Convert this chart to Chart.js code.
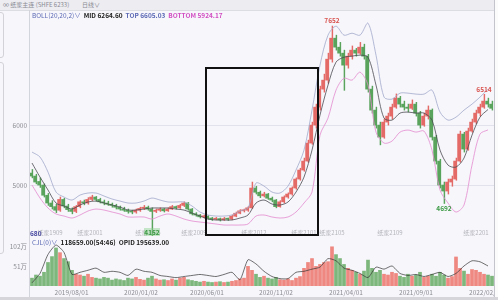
<!DOCTYPE html>
<html>
<head>
<meta charset="utf-8">
<title>纸浆主连 BOLL</title>
<script src="https://cdn.jsdelivr.net/npm/chart.js@4.4.1/dist/chart.umd.min.js"></script>
<style>
  html, body { margin: 0; padding: 0; }
  body {
    position: relative; width: 498px; height: 300px; overflow: hidden;
    background: #f6f6fb;
    font-family: "Noto Sans CJK SC", "Noto Sans", sans-serif;
  }
  .abs { position: absolute; white-space: nowrap; }
  #toolbar { left: 0; top: 0; width: 498px; height: 10px; background: #ececf1; border-bottom: 1px solid #dcdce3; }
  .t6 { font-size: 6px; line-height: 8px; }
  .t65 { font-size: 6.5px; line-height: 8px; font-weight: bold; }
  #price { left: 0; top: 10px; }
  #volume { left: 0; top: 236px; }
  .vline { width: 1px; background: #d4d4dc; }
  .side { border: 1px solid #d2d2d8; border-radius: 3px; }
  #box { left: 205px; top: 67px; width: 110px; height: 165px; border: 2px solid #111; }
</style>
</head>
<body>
<div id="toolbar" class="abs"></div>
<div class="abs t6" style="left:3px;top:1px;color:#8a8a92;">∞ 纸浆主连 (SHFE 6233)</div>
<div class="abs t6" style="left:82px;top:1px;color:#8a8a92;">日线∨</div>

<div class="abs side" style="left:-12px;top:12px;width:14px;height:44px;"></div>
<div class="abs side" style="left:-12px;top:62px;width:14px;height:190px;"></div>
<div class="abs vline" style="left:29px;top:10px;height:287px;"></div>
<div class="abs" style="left:494px;top:0;width:1px;height:300px;background:#c4c4cc;"></div>
<div class="abs" style="left:495px;top:0;width:3px;height:300px;background:#fbfbfc;"></div>

<canvas id="price" class="abs" width="494" height="226"></canvas>
<canvas id="volume" class="abs" width="494" height="61"></canvas>

<div class="abs t65" style="left:32px;top:11px;">
  <span style="color:#5b68b4;font-weight:normal;">BOLL(20,20,2)∨</span>
  <span style="color:#222;">&nbsp;MID 6264.60</span>
  <span style="color:#5b68b4;">&nbsp;TOP 6605.03</span>
  <span style="color:#d24fc2;">&nbsp;BOTTOM 5924.17</span>
</div>
<div class="abs t65" style="left:30px;top:229px;color:#4a4aa0;">680</div>
<div class="abs t65" style="left:32px;top:238px;">
  <span style="color:#5b68b4;font-weight:normal;">CJL(0)∨</span>
  <span style="color:#222;">&nbsp;118659.00(54:46)</span>
  <span style="color:#222;">&nbsp;OPID 195639.00</span>
</div>
<div class="abs" style="left:0;top:297px;width:498px;height:3px;background:#d6d6da;"></div>
<div id="box" class="abs"></div>

<script>
(function () {
  "use strict";

  // daily candles (one entry per bar, index 0..115)
  const opens = [5200,5150,5060,5000,4830,4700,4640,4580,4760,4650,
    4590,4560,4640,4720,4700,4760,4800,4760,4720,4700,
    4680,4660,4630,4600,4580,4560,4550,4580,4610,4630,
    4600,4560,4580,4600,4570,4600,4640,4620,4660,4700,
    4600,4520,4500,4470,4480,4450,4430,4440,4420,4440,
    4430,4480,4530,4570,4580,4620,4950,4880,4820,4850,
    4780,4750,4640,4720,4800,4850,4950,5100,5250,5400,
    5700,6000,6300,6600,6750,7100,7450,7300,7200,7000,
    7150,7250,7200,7300,7150,6600,6250,6000,5800,6050,
    6150,6300,6450,6350,6300,6280,6350,6200,6000,6150,
    6250,5800,5400,5000,4900,5050,5100,5400,5850,5600,
    5900,6050,6200,6300,6400,6350];
  const closes = [5150,5050,5000,4830,4700,4640,4580,4760,4650,4590,
    4560,4640,4720,4700,4760,4800,4760,4720,4700,4680,
    4660,4630,4600,4580,4560,4550,4580,4610,4630,4600,
    4560,4580,4600,4570,4600,4640,4620,4660,4700,4600,
    4520,4500,4470,4480,4450,4430,4440,4420,4440,4430,
    4480,4530,4570,4580,4620,4950,4880,4820,4850,4780,
    4750,4640,4720,4800,4850,4950,5100,5250,5400,5700,
    6000,6300,6600,6750,7100,7450,7300,7200,7000,7150,
    7250,7200,7300,7150,6600,6250,6000,5800,6050,6150,
    6300,6450,6350,6300,6280,6350,6200,6000,6150,6250,
    5800,5400,5000,4900,5050,5100,5400,5850,5600,5900,
    6050,6200,6300,6400,6350,6280];
  const highs = [5260,5180,5120,5020,4860,4740,4680,4800,4780,4680,
    4620,4660,4740,4750,4790,4830,4810,4780,4750,4730,
    4700,4680,4650,4630,4600,4580,4600,4630,4660,4650,
    4620,4600,4620,4610,4620,4660,4650,4680,4720,4710,
    4610,4540,4510,4500,4490,4460,4460,4450,4460,4450,
    4500,4550,4590,4600,4640,5050,4980,4900,4880,4860,
    4800,4760,4740,4820,4870,4970,5120,5280,5450,5750,
    6050,6350,6650,6850,7200,7652,7500,7380,7250,7200,
    7320,7280,7380,7350,7180,6650,6300,6050,6100,6200,
    6350,6520,6480,6400,6350,6420,6380,6230,6200,6320,
    6270,5830,5430,5050,5100,5150,5450,5900,5880,5950,
    6100,6250,6350,6514,6450,6400];
  const lows = [5120,5020,4960,4800,4660,4600,4540,4560,4620,4560,
    4520,4540,4620,4670,4680,4740,4730,4700,4670,4660,
    4630,4600,4580,4560,4530,4520,4530,4560,4590,4580,
    4152,4540,4560,4550,4560,4590,4600,4610,4640,4580,
    4500,4480,4450,4450,4430,4410,4420,4400,4410,4410,
    4420,4470,4520,4550,4560,4610,4850,4790,4800,4760,
    4720,4620,4630,4700,4780,4830,4930,5080,5230,5380,
    5680,5950,6250,6550,6700,7050,7250,7150,6580,6950,
    7100,7150,7180,7100,6550,6200,5950,5670,5780,6000,
    6100,6280,6300,6250,6220,6260,6150,5950,5980,6100,
    5750,5350,4950,4692,4850,4980,5080,5380,5550,5580,
    5880,6020,6150,6280,6300,6250];
  // volume, 万手
  const volumes = [20,28,25,35,60,75,97,85,70,62,
    40,30,28,25,30,22,20,18,22,20,
    15,18,16,14,20,18,22,17,15,20,
    25,18,15,16,14,18,15,20,22,16,
    14,12,10,12,10,9,10,11,9,10,
    12,14,18,20,50,40,30,22,25,20,
    18,22,16,15,18,14,20,24,45,60,
    70,50,55,60,62,100,80,70,55,45,
    40,35,30,38,66,45,35,40,30,28,
    35,32,25,22,30,25,28,35,22,25,
    30,25,35,28,20,24,74,45,38,30,
    42,40,35,30,28,25];

  // BOLL bands and open interest, sampled every 2nd bar
  const bollTop = [5550,5467,5217,4883,4800,4750,4833,4867,4867,4817,
    4767,4733,4700,4700,4733,4783,4750,4717,4717,4717,
    4650,4550,4500,4483,4483,4500,4567,4620,5033,4983,
    4883,4867,4983,5250,5583,6250,7000,7500,7650,7500,
    7533,7500,7700,7167,6467,6433,6533,6533,6517,6517,
    6583,6217,6083,6133,6250,6350,6467,6600];
  const bollMid = [5367,5133,4917,4700,4650,4600,4667,4717,4733,4700,
    4667,4633,4583,4583,4600,4617,4617,4617,4600,4583,
    4533,4483,4433,4417,4417,4417,4450,4500,4700,4750,
    4683,4667,4717,4883,5133,5583,6167,6667,7050,7133,
    7150,7167,7133,6667,6117,6083,6200,6217,6200,6200,
    6083,5583,5333,5300,5450,5833,6133,6260];
  const bollBot = [5000,4783,4617,4517,4483,4450,4500,4567,4600,4583,
    4550,4517,4467,4467,4467,4433,4483,4517,4483,4433,
    4400,4383,4367,4350,4333,4333,4333,4350,4483,4500,
    4467,4450,4467,4550,4700,4883,5833,6117,6583,6783,
    6750,6883,6667,5883,5700,5733,5883,5917,5883,5900,
    5583,4917,4700,4550,4667,5333,5850,5920];
  const openInterest = [3.1,12.3,30.9,40.1,32.9,11.3,13.4,15.4,17.5,13.4,
    14.4,13.4,10.3,16.5,14.4,13.4,10.3,9.3,8.2,9.3,
    10.3,11.3,10.3,9.3,11.3,13.4,6.2,25.7,21.6,14.4,
    9.3,7.2,7.2,13.4,14.4,16.5,18.5,26.8,24.7,17.5,
    15.4,12.3,8.2,18.5,16.5,19.6,12.3,10.3,11.3,9.3,
    11.3,13.4,9.3,12.3,19.6,24.7,23.7,19.6];
  const bandStep = 2;

  const dateTicks = [9.9, 27.25, 43.75, 61, 78.5, 96, 113.5];
  const dateLabels = ["2019/08/01", "2020/01/02", "2020/06/01", "2020/11/02", "2021/04/01", "2021/09/01", "2022/02/07"];
  const priceTicks = [5000, 6000];
  const volumeTicks = [51, 102];

  const rollIdx = [4.5, 14.5, 29, 40.5, 55.5, 68, 75, 89.5, 111];
  const rollNames = ["纸浆1909", "纸浆2001", "纸浆2005", "纸浆2009", "纸浆2012", "纸浆2101", "纸浆2105", "纸浆2109", "纸浆2201"];
  const markHighs = [75, 113];
  const markLows = [30, 103];

  const UP = "#e46a68";
  const DOWN = "#59a35c";
  const FONT = '"Noto Sans CJK SC", "Noto Sans", sans-serif';
  const LABEL = "#8c8c94";

  Chart.defaults.font.family = FONT;
  Chart.defaults.animation = false;

  const isUp = (i) => closes[i] >= opens[i];
  const candleColors = opens.map((o, i) => (isUp(i) ? UP : DOWN));
  const volColors = opens.map((o, i) => (isUp(i) ? "rgba(236,116,106,0.85)" : "rgba(104,172,100,0.85)"));
  const band = (arr) => arr.map((v, k) => ({ x: k * bandStep, y: v }));

  const xScale = {
    type: "linear", min: -0.5, max: opens.length - 0.5,
    offset: false, display: false,
  };

  // y labels and grid drawn by hand so the plot area keeps its exact size
  const yLabels = (id, values, format, grid) => ({
    id: id,
    beforeDatasetsDraw(chart) {
      const { ctx, chartArea } = chart;
      const ys = chart.scales.y;
      ctx.save();
      ctx.font = "6.5px " + FONT;
      ctx.fillStyle = LABEL;
      ctx.textAlign = "right";
      ctx.textBaseline = "middle";
      values.forEach((v) => {
        const py = Math.round(ys.getPixelForValue(v)) + 0.5;
        if (grid) {
          ctx.strokeStyle = "rgba(190,190,210,0.6)";
          ctx.lineWidth = 0.6;
          ctx.beginPath();
          ctx.moveTo(chartArea.left, py);
          ctx.lineTo(chartArea.right, py);
          ctx.stroke();
        }
        ctx.fillText(format(v), chartArea.left - 3, py);
      });
      ctx.restore();
    },
  });

  const priceLabels = {
    id: "priceLabels",
    afterDatasetsDraw(chart) {
      const { ctx, chartArea } = chart;
      const xs = chart.scales.x, ys = chart.scales.y;
      ctx.save();
      ctx.textAlign = "center";

      ctx.font = "6px " + FONT;
      ctx.fillStyle = "#b4b4bc";
      ctx.textBaseline = "bottom";
      rollIdx.forEach((v, k) => ctx.fillText(rollNames[k], xs.getPixelForValue(v), chartArea.bottom));

      ctx.font = "bold 6.5px " + FONT;
      ctx.fillStyle = "#d9534f";
      markHighs.forEach((i) => {
        ctx.fillText(String(highs[i]), xs.getPixelForValue(i), ys.getPixelForValue(highs[i]) - 2);
      });
      markLows.forEach((i) => {
        const py = Math.min(ys.getPixelForValue(lows[i]) + 8, chartArea.bottom);
        const px = xs.getPixelForValue(i);
        if (py >= chartArea.bottom) {
          ctx.fillStyle = "rgba(140,210,140,0.45)";
          ctx.fillRect(px - 8, py - 8, 16, 8);
        }
        ctx.fillStyle = "#3d9a45";
        ctx.fillText(String(lows[i]), px, py);
      });
      ctx.restore();
    },
  };

  const dateAxis = {
    id: "dateAxis",
    afterDraw(chart) {
      const { ctx, chartArea } = chart;
      const xs = chart.scales.x;
      ctx.save();
      ctx.font = "6.5px " + FONT;
      ctx.fillStyle = LABEL;
      ctx.textAlign = "center";
      ctx.textBaseline = "middle";
      dateTicks.forEach((v, k) => ctx.fillText(dateLabels[k], xs.getPixelForValue(v), chartArea.bottom + 7));
      ctx.restore();
    },
  };

  new Chart(document.getElementById("price"), {
    type: "bar",
    data: {
      datasets: [
        {
          type: "line", label: "TOP", order: 0, data: band(bollTop),
          borderColor: "#a3aacb", borderWidth: 0.8, pointRadius: 0, tension: 0.3,
        },
        {
          type: "line", label: "MID", order: 0, data: band(bollMid),
          borderColor: "#4a4a50", borderWidth: 0.8, pointRadius: 0, tension: 0.3,
        },
        {
          type: "line", label: "BOTTOM", order: 0, data: band(bollBot),
          borderColor: "#e58bcf", borderWidth: 0.8, pointRadius: 0, tension: 0.3,
        },
        {
          label: "body", order: 1,
          data: opens.map((o, i) => ({ x: i, y: [o, closes[i]] })),
          backgroundColor: candleColors, barThickness: 2.4, minBarLength: 1,
        },
        {
          label: "wick", order: 2,
          data: lows.map((l, i) => ({ x: i, y: [l, highs[i]] })),
          backgroundColor: candleColors, barThickness: 0.8,
        },
      ],
    },
    options: {
      responsive: false,
      layout: { autoPadding: false, padding: { left: 30, right: 0, top: 0, bottom: 0 } },
      plugins: { legend: { display: false }, tooltip: { enabled: false } },
      scales: {
        x: xScale,
        y: { min: 4150, max: 7920, display: false },
      },
    },
    plugins: [yLabels("priceAxis", priceTicks, (v) => String(v), true), priceLabels],
  });

  new Chart(document.getElementById("volume"), {
    type: "bar",
    data: {
      datasets: [
        {
          type: "line", label: "OPID", order: 0, yAxisID: "y2",
          data: band(openInterest),
          borderColor: "#333", borderWidth: 0.7, pointRadius: 0, tension: 0.2,
        },
        {
          label: "CJL", order: 1,
          data: volumes.map((v, i) => ({ x: i, y: v })),
          backgroundColor: volColors, barThickness: 3,
        },
      ],
    },
    options: {
      responsive: false,
      layout: { autoPadding: false, padding: { left: 30, right: 0, top: 2, bottom: 11 } },
      plugins: { legend: { display: false }, tooltip: { enabled: false } },
      scales: {
        x: xScale,
        y: { min: 0, max: 122.4, display: false },
        y2: { min: 0, max: 47, display: false },
      },
    },
    plugins: [yLabels("volumeAxis", volumeTicks, (v) => v + "万", false), dateAxis],
  });
})();
</script>
</body>
</html>
